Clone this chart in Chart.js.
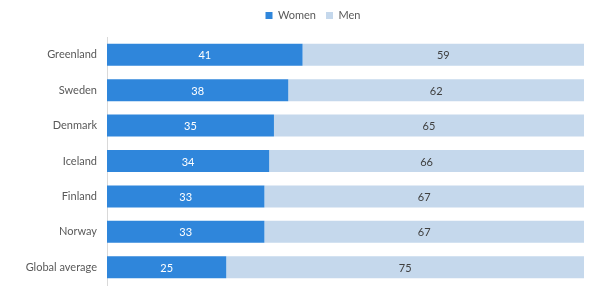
<!DOCTYPE html>
<html lang="en">
<head>
    <meta charset="UTF-8">
    <title>Women and Men share</title>
    <script src="https://cdn.jsdelivr.net/npm/chart.js"></script>
    <style>
        html, body { margin: 0; padding: 0; background: #fff; }
        #wrap { width: 591px; height: 293px; }
    </style>
</head>
<body>
    <div id="wrap">
        <canvas id="shareChart"></canvas>
    </div>

    <script>
        const countries = ['Greenland', 'Sweden', 'Denmark', 'Iceland', 'Finland', 'Norway', 'Global average'];
        const women = [41, 38, 35, 34, 33, 33, 25];
        const men = [59, 62, 65, 66, 67, 67, 75];

        const FONT = 'Lato';

        // draws the value in the middle of each bar segment
        const segmentLabels = {
            id: 'segmentLabels',
            afterDatasetsDraw(chart) {
                const ctx = chart.ctx;
                ctx.save();
                ctx.font = '11px ' + FONT;
                ctx.textAlign = 'center';
                ctx.textBaseline = 'middle';
                chart.data.datasets.forEach((ds, i) => {
                    const meta = chart.getDatasetMeta(i);
                    ctx.fillStyle = i === 0 ? '#ffffff' : '#404040';
                    meta.data.forEach((bar, j) => {
                        const x = (bar.x + bar.base) / 2;
                        ctx.fillText(ds.data[j], x, bar.y + 1);
                    });
                });
                ctx.restore();
            }
        };

        // fixed legend height, and legend nudged a bit to the right like the original
        const legendTweak = {
            id: 'legendTweak',
            beforeInit(chart) {
                const fit = chart.legend.fit;
                chart.legend.fit = function () {
                    fit.bind(chart.legend)();
                    this.height = 37;
                };
            },
            afterLayout(chart) {
                chart.legend.left += 21;
                chart.legend.right += 21;
            }
        };

        const ctx = document.getElementById('shareChart').getContext('2d');
        new Chart(ctx, {
            type: 'bar',
            data: {
                labels: countries,
                datasets: [
                    {
                        label: 'Women',
                        data: women,
                        backgroundColor: '#2F86DB',
                        barPercentage: 0.62,
                        categoryPercentage: 1
                    },
                    {
                        label: 'Men',
                        data: men,
                        backgroundColor: '#C5D8EC',
                        barPercentage: 0.62,
                        categoryPercentage: 1
                    }
                ]
            },
            options: {
                indexAxis: 'y',
                responsive: true,
                maintainAspectRatio: false,
                animation: false,
                layout: {
                    padding: { top: 0, right: 7, bottom: 8, left: 0 }
                },
                plugins: {
                    legend: {
                        position: 'top',
                        labels: {
                            boxWidth: 7,
                            boxHeight: 7,
                            padding: 10,
                            color: '#595959',
                            font: { family: FONT, size: 11 }
                        }
                    },
                    tooltip: { enabled: false }
                },
                scales: {
                    x: {
                        stacked: true,
                        min: 0,
                        max: 100,
                        display: false
                    },
                    y: {
                        stacked: true,
                        grid: { display: false, drawTicks: false },
                        border: { display: true, color: '#D9D9D9' },
                        ticks: {
                            padding: 10,
                            color: '#595959',
                            font: { family: FONT, size: 11 }
                        },
                        afterFit(scale) {
                            scale.width = 107;
                            scale.paddingTop = 0;
                            scale.paddingBottom = 0;
                        }
                    }
                }
            },
            plugins: [segmentLabels, legendTweak]
        });
    </script>
</body>
</html>
